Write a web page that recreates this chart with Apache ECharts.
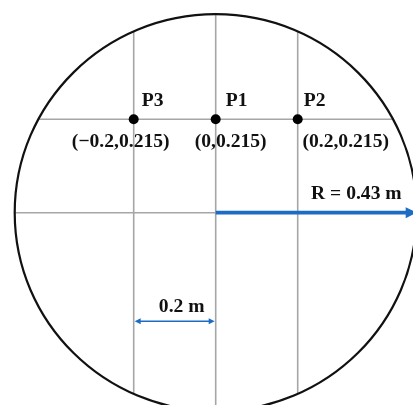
<!DOCTYPE html>
<html>
<head>
<meta charset="utf-8">
<script src="https://cdn.jsdelivr.net/npm/echarts@6/dist/echarts.min.js"></script>
<style>
  html, body { margin: 0; padding: 0; background: #ffffff; }
  #chart { width: 413px; height: 405px; }
</style>
</head>
<body>
<div id="chart"></div>
<script>
// Measurement points on the cross-section (metres)
const pointNames = ['P3', 'P1', 'P2'];
const pointX = [-0.2, 0, 0.2];
const pointY = [0.215, 0.215, 0.215];

// Reference lines through the section (metres)
const lineX = [-0.2, 0, 0.2];
const lineY = [0.215, 0];

// Section radius and the marked spacing (metres)
const radius = 0.43;
const spacingFrom = -0.2;
const spacingTo = 0;

// ---------- layout ----------
const W = 413, H = 405;
const centrePx = [215.7, 212.7];      // where the section centre sits on the canvas
const schemeScale = [410, 434.4];     // px per metre for points and reference lines
const ringScale = [467.4, 461.6];     // px per metre for the outline and radius arrow
const dimLineY = -0.25;               // height of the spacing dimension line (metres)
const nameOffset = [[8, -18], [10, -18], [6, -18]];
const coordOffset = [[-13, 23], [15, 23], [48, 23]];
const FONT = 'bold 19.6px "Liberation Serif", "Times New Roman", serif';
const BLUE = '#1c6cc6';
const INK = '#111111';
const GRID_GREY = '#a6a6a6';

function xRange(scale) { return { min: -centrePx[0] / scale, max: (W - centrePx[0]) / scale }; }
function yRange(scale) { return { min: -(H - centrePx[1]) / scale, max: centrePx[1] / scale }; }

function fmt(v) { return v < 0 ? '\u2212' + Math.abs(v) : String(v); }

const chart = echarts.init(document.getElementById('chart'), null, { renderer: 'canvas' });

// pixel ellipse of the outline, resolved after the axes exist
let ring = null;

function arrowHead(tip, dir, len, half) {
  const bx = tip[0] - dir[0] * len, by = tip[1] - dir[1] * len;
  const nx = -dir[1], ny = dir[0];
  return [[tip[0], tip[1]], [bx + nx * half, by + ny * half], [bx - nx * half, by - ny * half]];
}

function buildOption() {
  const xs = xRange(schemeScale[0]), ys = yRange(schemeScale[1]);
  const xr = xRange(ringScale[0]), yr = yRange(ringScale[1]);
  const lineData = lineX.map(v => [v, 0, 0]).concat(lineY.map(v => [0, v, 1]));
  return {
    animation: false,
    backgroundColor: '#ffffff',
    grid: [
      { left: 0, right: 0, top: 0, bottom: 0 },
      { left: 0, right: 0, top: 0, bottom: 0 }
    ],
    xAxis: [
      { type: 'value', gridIndex: 0, show: false, min: xs.min, max: xs.max },
      { type: 'value', gridIndex: 1, show: false, min: xr.min, max: xr.max }
    ],
    yAxis: [
      { type: 'value', gridIndex: 0, show: false, min: ys.min, max: ys.max },
      { type: 'value', gridIndex: 1, show: false, min: yr.min, max: yr.max }
    ],
    series: [
      {
        // reference lines, clipped to the outline
        type: 'custom', xAxisIndex: 0, yAxisIndex: 0, silent: true, z: 1,
        data: lineData,
        renderItem: function (params, api) {
          if (!ring) return null;
          const horizontal = api.value(2) === 1;
          const p = api.coord([api.value(0), api.value(1)]);
          if (!horizontal) {
            const d = (p[0] - ring.cx) / ring.rx;
            const h = ring.ry * Math.sqrt(Math.max(0, 1 - d * d));
            return { type: 'line', shape: { x1: p[0], y1: ring.cy - h, x2: p[0], y2: ring.cy + h },
              style: { stroke: GRID_GREY, lineWidth: 1.6 } };
          }
          const d = (p[1] - ring.cy) / ring.ry;
          const w = ring.rx * Math.sqrt(Math.max(0, 1 - d * d));
          return { type: 'line', shape: { x1: ring.cx - w, y1: p[1], x2: ring.cx + w, y2: p[1] },
            style: { stroke: GRID_GREY, lineWidth: 1.6 } };
        }
      },
      {
        // section outline
        type: 'custom', xAxisIndex: 1, yAxisIndex: 1, silent: true, z: 2,
        data: [[0, 0, radius]],
        renderItem: function (params, api) {
          const c = api.coord([api.value(0), api.value(1)]);
          const s = api.size([api.value(2), api.value(2)]);
          return { type: 'ellipse', shape: { cx: c[0], cy: c[1], rx: s[0], ry: s[1] },
            style: { fill: 'none', stroke: INK, lineWidth: 2.2 } };
        }
      },
      {
        // radius arrow with its label
        type: 'custom', xAxisIndex: 1, yAxisIndex: 1, silent: true, z: 3,
        data: [[0, 0, radius]],
        renderItem: function (params, api) {
          const r = api.value(2);
          const p0 = api.coord([api.value(0), api.value(1)]);
          const p1 = api.coord([r, api.value(1)]);
          const head = arrowHead(p1, [1, 0], 11, 5.5);
          return { type: 'group', children: [
            { type: 'line', shape: { x1: p0[0], y1: p0[1], x2: p1[0] - 9, y2: p1[1] },
              style: { stroke: BLUE, lineWidth: 3.8 } },
            { type: 'polygon', shape: { points: head }, style: { fill: BLUE } },
            { type: 'text', x: p1[0] - 15, y: p1[1] - 19,
              style: { text: 'R = ' + r + ' m', font: FONT, fill: INK, align: 'right', verticalAlign: 'middle' } }
          ] };
        }
      },
      {
        // spacing dimension between two reference lines
        type: 'custom', xAxisIndex: 0, yAxisIndex: 0, silent: true, z: 3,
        data: [[spacingFrom, spacingTo]],
        renderItem: function (params, api) {
          const a = api.value(0), b = api.value(1);
          const p0 = api.coord([a, dimLineY]);
          const p1 = api.coord([b, dimLineY]);
          const span = +(b - a).toFixed(3);
          return { type: 'group', children: [
            { type: 'line', shape: { x1: p0[0] + 4, y1: p0[1], x2: p1[0] - 4, y2: p1[1] },
              style: { stroke: BLUE, lineWidth: 1.6 } },
            { type: 'polygon', shape: { points: arrowHead([p0[0] + 1, p0[1]], [-1, 0], 6, 3) }, style: { fill: BLUE } },
            { type: 'polygon', shape: { points: arrowHead([p1[0] - 1, p1[1]], [1, 0], 6, 3) }, style: { fill: BLUE } },
            { type: 'text', x: (p0[0] + p1[0]) / 2 + 7, y: p0[1] - 14,
              style: { text: span + ' m', font: FONT, fill: INK, align: 'center', verticalAlign: 'middle' } }
          ] };
        }
      },
      {
        // measurement points with names and coordinates
        type: 'custom', xAxisIndex: 0, yAxisIndex: 0, silent: true, z: 4,
        data: pointX.map((x, i) => [x, pointY[i], i]),
        renderItem: function (params, api) {
          const x = api.value(0), y = api.value(1), i = api.value(2);
          const p = api.coord([x, y]);
          return { type: 'group', children: [
            { type: 'circle', shape: { cx: p[0], cy: p[1], r: 5 }, style: { fill: '#000000' } },
            { type: 'text', x: p[0] + nameOffset[i][0], y: p[1] + nameOffset[i][1],
              style: { text: pointNames[i], font: FONT, fill: INK, align: 'left', verticalAlign: 'middle' } },
            { type: 'text', x: p[0] + coordOffset[i][0], y: p[1] + coordOffset[i][1],
              style: { text: '(' + fmt(x) + ',' + fmt(y) + ')', font: FONT, fill: INK, align: 'center', verticalAlign: 'middle' } }
          ] };
        }
      }
    ]
  };
}

chart.setOption(buildOption());
const c0 = chart.convertToPixel({ gridIndex: 1 }, [0, 0]);
const c1 = chart.convertToPixel({ gridIndex: 1 }, [radius, radius]);
ring = { cx: c0[0], cy: c0[1], rx: c1[0] - c0[0], ry: c0[1] - c1[1] };
chart.setOption(buildOption());
</script>
</body>
</html>
